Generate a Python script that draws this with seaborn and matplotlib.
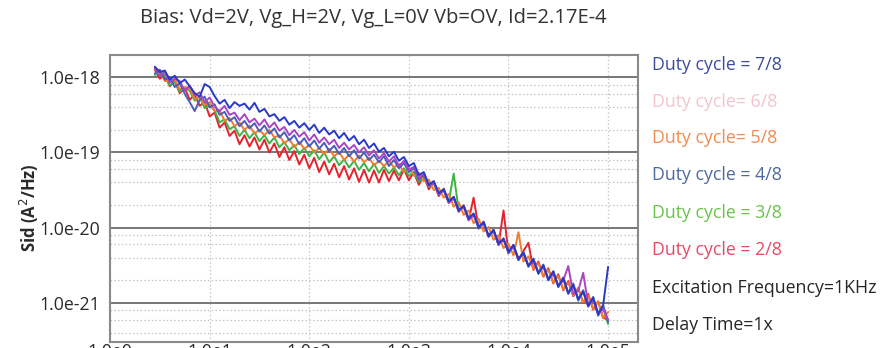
import numpy as np
import pandas as pd
import matplotlib
matplotlib.use("Agg")
import matplotlib.pyplot as plt
import seaborn as sns
from matplotlib.ticker import LogLocator, FuncFormatter, NullFormatter

# ---------------- data (log10 values) ----------------
log_freq = [0.45, 0.50, 0.55, 0.60, 0.65, 0.70, 0.75, 0.80, 0.85, 0.90,
            0.95, 1.00, 1.05, 1.10, 1.15, 1.20, 1.25, 1.30, 1.35, 1.40,
            1.45, 1.50, 1.55, 1.60, 1.65, 1.70, 1.75, 1.80, 1.85, 1.90,
            1.95, 2.00, 2.05, 2.10, 2.15, 2.20, 2.25, 2.30, 2.35, 2.40,
            2.45, 2.50, 2.55, 2.60, 2.65, 2.70, 2.75, 2.80, 2.85, 2.90,
            2.95, 3.00, 3.05, 3.10, 3.15, 3.20, 3.25, 3.30, 3.35, 3.40,
            3.45, 3.50, 3.55, 3.60, 3.65, 3.70, 3.75, 3.80, 3.85, 3.90,
            3.95, 4.00, 4.05, 4.10, 4.15, 4.20, 4.25, 4.30, 4.35, 4.40,
            4.45, 4.50, 4.55, 4.60, 4.65, 4.70, 4.75, 4.80, 4.85, 4.90,
            4.95, 5.00]

sid_7_8 = [-17.86, -17.93, -17.91, -18.03, -17.98, -18.08, -18.03, -18.12, -18.21, -18.26,
           -18.09, -18.13, -18.25, -18.35, -18.30, -18.41, -18.33, -18.38, -18.35, -18.43,
           -18.34, -18.46, -18.42, -18.52, -18.49, -18.58, -18.53, -18.63, -18.58, -18.67,
           -18.61, -18.70, -18.63, -18.74, -18.67, -18.76, -18.71, -18.81, -18.74, -18.84,
           -18.78, -18.89, -18.83, -18.94, -18.88, -18.99, -18.94, -19.05, -18.99, -19.11,
           -19.06, -19.18, -19.14, -19.30, -19.26, -19.43, -19.38, -19.54, -19.49, -19.65,
           -19.59, -19.77, -19.71, -19.88, -19.81, -19.99, -19.93, -20.11, -20.03, -20.21,
           -20.15, -20.32, -20.23, -20.42, -20.33, -20.51, -20.42, -20.61, -20.50, -20.69,
           -20.58, -20.78, -20.67, -20.87, -20.76, -20.95, -20.85, -21.04, -20.93, -21.15,
           -21.03, -20.52]

sid_6_8 = [-17.87, -17.98, -17.93, -18.07, -18.02, -18.05, -18.18, -18.11, -18.24, -18.20,
           -18.33, -18.27, -18.39, -18.45, -18.38, -18.50, -18.47, -18.57, -18.49, -18.60,
           -18.55, -18.64, -18.56, -18.67, -18.60, -18.71, -18.66, -18.77, -18.70, -18.79,
           -18.73, -18.84, -18.76, -18.87, -18.80, -18.89, -18.83, -18.94, -18.87, -18.96,
           -18.90, -19.00, -18.93, -19.04, -18.97, -19.08, -19.01, -19.12, -19.05, -19.18,
           -19.11, -19.23, -19.19, -19.34, -19.28, -19.45, -19.40, -19.56, -19.50, -19.67,
           -19.61, -19.76, -19.72, -19.90, -19.83, -19.98, -19.95, -20.10, -20.04, -20.22,
           -20.16, -20.31, -20.26, -20.41, -20.34, -20.50, -20.45, -20.59, -20.52, -20.68,
           -20.62, -20.77, -20.70, -20.51, -20.88, -20.84, -20.60, -21.02, -20.97, -21.14,
           -21.08, -21.22]

sid_5_8 = [-17.89, -17.91, -18.05, -18.05, -18.03, -18.16, -18.13, -18.15, -18.29, -18.26,
           -18.37, -18.33, -18.45, -18.44, -18.58, -18.54, -18.65, -18.60, -18.70, -18.64,
           -18.75, -18.70, -18.77, -18.70, -18.80, -18.77, -18.88, -18.82, -18.93, -18.86,
           -18.95, -18.90, -19.00, -18.94, -19.02, -18.95, -19.05, -18.99, -19.10, -19.03,
           -19.12, -19.04, -19.13, -19.07, -19.17, -19.11, -19.18, -19.11, -19.20, -19.15,
           -19.26, -19.19, -19.31, -19.27, -19.38, -19.36, -19.50, -19.47, -19.60, -19.55,
           -19.72, -19.66, -19.83, -19.77, -19.94, -19.88, -20.05, -19.99, -20.16, -20.10,
           -20.27, -20.21, -20.37, -20.06, -20.45, -20.38, -20.55, -20.47, -20.64, -20.56,
           -20.73, -20.64, -20.82, -20.73, -20.90, -20.81, -20.99, -20.90, -21.08, -20.98,
           -21.20, -21.12]

sid_4_8 = [-17.95, -17.90, -18.03, -18.00, -18.13, -18.08, -18.22, -18.33, -18.45, -18.30,
           -18.26, -18.40, -18.36, -18.50, -18.46, -18.58, -18.53, -18.65, -18.58, -18.68,
           -18.61, -18.72, -18.64, -18.75, -18.68, -18.80, -18.73, -18.84, -18.77, -18.89,
           -18.81, -18.92, -18.84, -18.95, -18.87, -18.98, -18.91, -19.02, -18.94, -19.05,
           -18.97, -19.08, -19.00, -19.10, -19.03, -19.13, -19.05, -19.18, -19.10, -19.21,
           -19.14, -19.26, -19.21, -19.36, -19.29, -19.45, -19.39, -19.56, -19.49, -19.66,
           -19.60, -19.78, -19.71, -19.89, -19.82, -20.01, -19.92, -20.12, -20.03, -20.23,
           -20.14, -20.34, -20.23, -20.43, -20.32, -20.52, -20.41, -20.61, -20.49, -20.70,
           -20.58, -20.79, -20.66, -20.88, -20.74, -20.97, -20.83, -21.05, -20.92, -21.17,
           -21.03, -21.25]

sid_3_8 = [-17.97, -17.93, -17.98, -18.11, -18.06, -18.19, -18.14, -18.18, -18.31, -18.26,
           -18.41, -18.37, -18.44, -18.60, -18.56, -18.69, -18.65, -18.78, -18.70, -18.81,
           -18.73, -18.85, -18.77, -18.88, -18.80, -18.93, -18.86, -18.97, -18.90, -19.02,
           -18.94, -19.05, -18.97, -19.09, -19.00, -19.13, -19.05, -19.17, -19.09, -19.20,
           -19.11, -19.23, -19.14, -19.25, -19.15, -19.27, -19.18, -19.28, -19.20, -19.30,
           -19.21, -19.31, -19.26, -19.39, -19.33, -19.46, -19.41, -19.56, -19.50, -19.66,
           -19.28, -19.77, -19.72, -19.88, -19.83, -19.99, -19.94, -20.10, -20.05, -20.21,
           -20.16, -20.32, -20.25, -20.41, -20.34, -20.50, -20.43, -20.59, -20.52, -20.68,
           -20.61, -20.77, -20.69, -20.86, -20.77, -20.94, -20.86, -21.03, -20.95, -21.13,
           -21.06, -21.28]

sid_2_8 = [-17.90, -18.02, -17.97, -18.12, -18.05, -18.21, -18.14, -18.30, -18.23, -18.38,
           -18.33, -18.52, -18.47, -18.67, -18.60, -18.78, -18.71, -18.89, -18.77, -18.92,
           -18.80, -18.96, -18.83, -19.00, -18.88, -19.06, -18.93, -19.10, -18.98, -19.16,
           -19.03, -19.21, -19.07, -19.26, -19.12, -19.29, -19.15, -19.33, -19.18, -19.36,
           -19.21, -19.39, -19.23, -19.40, -19.24, -19.40, -19.23, -19.38, -19.24, -19.37,
           -19.22, -19.37, -19.26, -19.43, -19.31, -19.49, -19.39, -19.58, -19.48, -19.67,
           -19.59, -19.79, -19.70, -19.90, -19.60, -20.01, -19.92, -20.12, -20.03, -20.23,
           -19.77, -20.34, -20.23, -20.43, -20.31, -20.20, -20.56, -20.45, -20.65, -20.54,
           -20.74, -20.62, -20.83, -20.71, -20.91, -20.80, -21.00, -20.88, -21.09, -20.98,
           -21.20, -21.22]

series_names = ["Duty cycle = 2/8", "Duty cycle = 3/8", "Duty cycle = 5/8",
                "Duty cycle = 4/8", "Duty cycle = 6/8", "Duty cycle = 7/8"]
series_values = [sid_2_8, sid_3_8, sid_5_8, sid_4_8, sid_6_8, sid_7_8]
line_colors = ["#e5222e", "#3db345", "#f27b2c", "#4a5fb8", "#a845c2", "#2a3ac6"]

legend_labels = ["Duty cycle = 7/8", "Duty cycle= 6/8", "Duty cycle= 5/8",
                 "Duty cycle = 4/8", "Duty cycle = 3/8", "Duty cycle = 2/8",
                 "Excitation Frequency=1KHz", "Delay Time=1x"]
legend_colors = ["#3b4c9c", "#f1c5ca", "#f08b4f", "#4d6a9e", "#6cc14c", "#e54a62",
                 "#262626", "#262626"]

title_text = "Bias: Vd=2V, Vg_H=2V, Vg_L=0V Vb=OV, Id=2.17E-4"

# ---------------- build table ----------------
rows = []
for name, vals in zip(series_names, series_values):
    for lf, lv in zip(log_freq, vals):
        rows.append({"freq": 10.0 ** lf, "sid": 10.0 ** lv, "series": name})
df = pd.DataFrame(rows)

# ---------------- plot ----------------
sns.set_theme(style="white")
plt.rcParams["font.family"] = ["Open Sans", "DejaVu Sans"]

W, H = 890, 348
fig = plt.figure(figsize=(W / 100, H / 100), dpi=100)
ax = fig.add_axes([110 / W, 1 - 342 / H, (638 - 110) / W, (342 - 55) / H])

sns.lineplot(data=df, x="freq", y="sid", hue="series", hue_order=series_names,
             palette=dict(zip(series_names, line_colors)), estimator=None,
             sort=False, legend=False, linewidth=1.4, ax=ax)

ax.set_xscale("log")
ax.set_yscale("log")
ax.set_xlim(1, 10 ** 5.3)
ax.set_ylim(10 ** -21.519, 10 ** -17.704)

ax.xaxis.set_major_locator(LogLocator(base=10, numticks=10))
ax.xaxis.set_minor_locator(LogLocator(base=10, subs=[], numticks=10))
ax.yaxis.set_major_locator(LogLocator(base=10, numticks=10))
ax.yaxis.set_minor_locator(LogLocator(base=10, subs=[2, 4, 6, 8], numticks=20))
fmt = FuncFormatter(lambda v, p: "1.0e%d" % int(round(np.log10(v))))
ax.xaxis.set_major_formatter(fmt)
ax.yaxis.set_major_formatter(fmt)
ax.yaxis.set_minor_formatter(NullFormatter())
ax.xaxis.set_minor_formatter(NullFormatter())

ax.tick_params(axis="both", which="both", length=0)
ax.tick_params(axis="y", pad=7, labelsize=12.8, labelcolor="#2a2a2a")
ax.tick_params(axis="x", pad=1, labelsize=12.8, labelcolor="#2a2a2a")

ax.grid(False)
ax.yaxis.grid(True, which="major", color="#777777", linewidth=1.4, linestyle="-")
ax.yaxis.grid(True, which="minor", color="#c4c4c4", linewidth=0.9, linestyle=(0, (1.2, 1.8)))
ax.xaxis.grid(True, which="major", color="#c8c8c8", linewidth=0.9, linestyle=(0, (1.2, 1.8)))
ax.set_axisbelow(True)

for s in ax.spines.values():
    s.set_visible(True)
    s.set_color("#8a8a8a")
    s.set_linewidth(1.5)

ax.set_xlabel("")
ax.set_ylabel("Sid (A$^2$/Hz)", fontsize=12, fontweight="bold", color="#2a2a2a")
ax.yaxis.set_label_coords(-0.131, 0.47)

fig.text(373 / W, 1 - 18 / H, title_text, ha="center", va="center",
         fontsize=14.5, color="#333333")

legend_y = [65, 102, 138, 175, 213, 250, 288, 325]
for txt, col, yy in zip(legend_labels, legend_colors, legend_y):
    fig.text(652 / W, 1 - yy / H, txt, ha="left", va="center",
             fontsize=12.8, color=col)

fig.savefig("out.png", dpi=100, facecolor="white")
